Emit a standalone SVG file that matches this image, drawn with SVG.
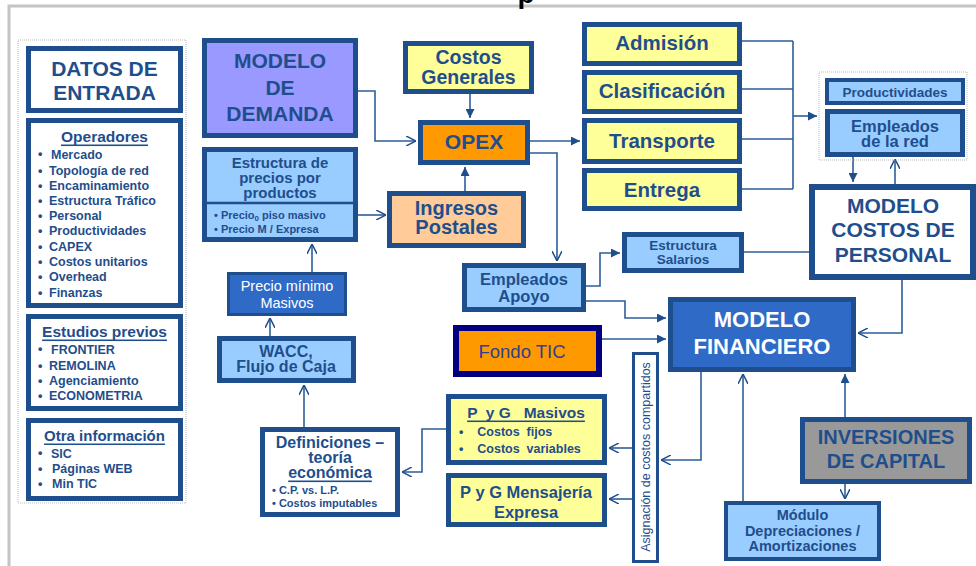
<svg xmlns="http://www.w3.org/2000/svg" width="976" height="566" viewBox="0 0 976 566">
<defs>
<style>
text{font-family:"Liberation Sans",Arial,sans-serif;font-weight:bold;fill:#1F4E8C;text-anchor:middle;dominant-baseline:central}
.bx{stroke:#1F4E8C;stroke-width:5}
.lb{fill:#99CCFF}
.yl{fill:#FFFF99}
.wh{fill:#FFFFFF}
.cn{fill:none;stroke:#2E5E9A;stroke-width:1.6}
.fa{marker-end:url(#fa)}
.oa{marker-end:url(#oa)}
.li{text-anchor:start}
.ul{text-decoration:underline}
.w{fill:#FFFFFF}
.it{font-size:12.5px}
</style>
<marker id="fa" viewBox="0 0 10 10" refX="10" refY="5" markerWidth="9" markerHeight="9" markerUnits="userSpaceOnUse" orient="auto"><path d="M0,0 L10,5 L0,10 z" fill="#1F4E8C"/></marker>
<marker id="oa" viewBox="0 0 10 10" refX="10" refY="5" markerWidth="10" markerHeight="10" markerUnits="userSpaceOnUse" orient="auto"><path d="M0,0 L10,5 L0,10" fill="none" stroke="#1F4E8C" stroke-width="1.5"/></marker>
</defs>
<rect width="976" height="566" fill="#FFFFFF"/>
<path d="M9,566 V6 H976" fill="none" stroke="#C4C4C4" stroke-width="3"/>
<text x="526" y="-7" style="font-size:28px;fill:#000">p</text>

<g id="connectors">
<path class="cn oa" d="M358,91 H375 V141 H416"/>
<path class="cn fa" d="M470,94 V118"/>
<path class="cn fa" d="M465,191 V167"/>
<path class="cn oa" d="M358,215 H386"/>
<path class="cn fa" d="M530,141 H580"/>
<path class="cn oa" d="M530,153 H557 V261"/>
<path class="cn" d="M742,41 H793 M742,89 H793 M742,139 H793 M742,189 H793 M793,41 V189"/>
<path class="cn fa" d="M793,116 H817"/>
<path class="cn fa" d="M853,157 V182"/>
<path class="cn oa" d="M895,184 V159"/>
<path class="cn" d="M809,252 H744"/>
<path class="cn fa" d="M586,286 H600 V253 H620"/>
<path class="cn fa" d="M586,301 H625 V318 H666"/>
<path class="cn fa" d="M602,339 H666"/>
<path class="cn oa" d="M902,280 V333 H858"/>
<path class="cn oa" d="M701,372 V460 H661"/>
<path class="cn oa" d="M632,448 H609"/>
<path class="cn oa" d="M632,499 H609"/>
<path class="cn oa" d="M446,429 H422 V472 H402"/>
<path class="cn oa" d="M304,427 V385"/>
<path class="cn oa" d="M270,336 V318"/>
<path class="cn oa" d="M312,272 V244"/>
<path class="cn fa" d="M845,417 V374"/>
<path class="cn oa" d="M845,484 V499"/>
<path class="cn oa" d="M743,501 V374"/>
</g>

<g id="datos-container"><rect x="18" y="40" width="168" height="463" fill="none" stroke="#BBBBBB" stroke-width="1" stroke-dasharray="1,1"/></g>
<g id="datos-entrada">
<rect class="bx wh" x="28.5" y="48.5" width="152" height="62"/>
<text x="104.5" y="68" style="font-size:21px">DATOS DE</text>
<text x="104.5" y="92" style="font-size:21px">ENTRADA</text>
</g>
<g id="operadores">
<rect class="bx wh" x="28.5" y="120.5" width="152" height="185"/>
<text class="ul" x="104.5" y="136" style="font-size:15.5px">Operadores</text>
<g class="it">
<text class="li" x="38" y="154">•</text><text class="li" x="51" y="155">Mercado</text>
<text class="li" x="38" y="171">•</text><text class="li" x="49" y="171">Topología de red</text>
<text class="li" x="38" y="186">•</text><text class="li" x="49" y="186">Encaminamiento</text>
<text class="li" x="38" y="201">•</text><text class="li" x="49" y="201">Estructura Tráfico</text>
<text class="li" x="38" y="216">•</text><text class="li" x="49" y="216">Personal</text>
<text class="li" x="38" y="231">•</text><text class="li" x="49" y="231">Productividades</text>
<text class="li" x="38" y="247">•</text><text class="li" x="49" y="247">CAPEX</text>
<text class="li" x="38" y="262">•</text><text class="li" x="49" y="262">Costos unitarios</text>
<text class="li" x="38" y="277">•</text><text class="li" x="49" y="277">Overhead</text>
<text class="li" x="38" y="293">•</text><text class="li" x="49" y="293">Finanzas</text>
</g>
</g>
<g id="estudios-previos">
<rect class="bx wh" x="28.5" y="316.5" width="152" height="92"/>
<text class="ul" x="104.5" y="331" style="font-size:15.5px">Estudios previos</text>
<g class="it">
<text class="li" x="38" y="349">•</text><text class="li" x="51" y="350">FRONTIER</text>
<text class="li" x="38" y="366">•</text><text class="li" x="49" y="366">REMOLINA</text>
<text class="li" x="38" y="381">•</text><text class="li" x="49" y="381">Agenciamiento</text>
<text class="li" x="38" y="396">•</text><text class="li" x="49" y="396">ECONOMETRIA</text>
</g>
</g>
<g id="otra-informacion">
<rect class="bx wh" x="28.5" y="420.5" width="152" height="78"/>
<text class="ul" x="104.5" y="435" style="font-size:15px">Otra información</text>
<g class="it">
<text class="li" x="38" y="453">•</text><text class="li" x="51" y="454">SIC</text>
<text class="li" x="38" y="469">•</text><text class="li" x="52" y="469">Páginas WEB</text>
<text class="li" x="38" y="484">•</text><text class="li" x="52" y="484">Min TIC</text>
</g>
</g>

<g id="modelo-demanda">
<rect class="bx" x="204.5" y="40.5" width="151" height="95" fill="#9999FF"/>
<text x="280" y="60" style="font-size:21px">MODELO</text>
<text x="280" y="87" style="font-size:21px">DE</text>
<text x="280" y="113" style="font-size:21px">DEMANDA</text>
</g>
<g id="estructura-precios">
<rect class="bx lb" x="204.5" y="149.5" width="151" height="90"/>
<line x1="204" y1="203" x2="356" y2="203" stroke="#1F4E8C" stroke-width="2.5"/>
<text x="280" y="162" style="font-size:15px">Estructura de</text>
<text x="280" y="177" style="font-size:15px">precios por</text>
<text x="280" y="192" style="font-size:15px">productos</text>
<text class="li" x="214" y="215" style="font-size:11px">•   Precio<tspan style="font-size:8px" dy="3">0</tspan><tspan dy="-3"> piso masivo</tspan></text>
<text class="li" x="214" y="229" style="font-size:11px">•   Precio  M / Expresa</text>
</g>
<g id="costos-generales">
<rect class="bx yl" x="405.5" y="43.5" width="126" height="48"/>
<text x="468.5" y="57" style="font-size:19.5px">Costos</text>
<text x="468.5" y="77" style="font-size:19.5px">Generales</text>
</g>
<g id="opex">
<rect class="bx" x="420.5" y="122.5" width="107" height="40" fill="#FF9900"/>
<text x="474" y="141" style="font-size:21px">OPEX</text>
</g>
<g id="ingresos-postales">
<rect class="bx" x="389.5" y="193.5" width="134" height="52" fill="#FFCC99"/>
<text x="456.5" y="208" style="font-size:20px">Ingresos</text>
<text x="456.5" y="227" style="font-size:20px">Postales</text>
</g>
<g id="admision">
<rect class="bx yl" x="584.5" y="24.5" width="155" height="39"/>
<text x="662" y="42" style="font-size:20.5px">Admisión</text>
</g>
<g id="clasificacion">
<rect class="bx yl" x="584.5" y="72.5" width="155" height="39"/>
<text x="662" y="90" style="font-size:20.5px">Clasificación</text>
</g>
<g id="transporte">
<rect class="bx yl" x="584.5" y="120.5" width="155" height="41"/>
<text x="662" y="140" style="font-size:20.5px">Transporte</text>
</g>
<g id="entrega">
<rect class="bx yl" x="584.5" y="170.5" width="155" height="38"/>
<text x="662" y="189" style="font-size:20.5px">Entrega</text>
</g>
<g id="red-container"><rect x="819" y="72" width="148" height="88" fill="none" stroke="#BBBBBB" stroke-width="1" stroke-dasharray="1,1"/></g>
<g id="productividades">
<rect class="bx lb" x="827" y="80" width="136" height="23" style="stroke-width:4"/>
<text x="895" y="92" style="font-size:13.5px">Productividades</text>
</g>
<g id="empleados-red">
<rect class="bx lb" x="827.5" y="111.5" width="135" height="43"/>
<text x="895" y="126" style="font-size:16.5px">Empleados</text>
<text x="895" y="141" style="font-size:16.5px">de la red</text>
</g>
<g id="modelo-costos-personal">
<rect class="bx wh" x="812" y="187" width="161" height="90" style="stroke-width:6"/>
<text x="893" y="205" style="font-size:21px">MODELO</text>
<text x="893" y="229" style="font-size:21px">COSTOS DE</text>
<text x="893" y="254" style="font-size:21px">PERSONAL</text>
</g>
<g id="estructura-salarios">
<rect class="bx lb" x="624.5" y="234.5" width="117" height="36"/>
<text x="683" y="245" style="font-size:13.5px">Estructura</text>
<text x="683" y="259" style="font-size:13.5px">Salarios</text>
</g>
<g id="empleados-apoyo">
<rect class="bx lb" x="464.5" y="265.5" width="119" height="44"/>
<text x="524" y="279" style="font-size:16.5px">Empleados</text>
<text x="524" y="296" style="font-size:16.5px">Apoyo</text>
</g>
<g id="fondo-tic">
<rect x="456" y="328" width="143" height="46" fill="#FF9900" stroke="#000080" stroke-width="6"/>
<text x="522" y="351" style="font-size:18.5px;font-weight:normal;fill:#2E3F96">Fondo TIC</text>
</g>
<g id="modelo-financiero">
<rect class="bx" x="670.5" y="299.5" width="183" height="70" fill="#2F6BC6"/>
<text class="w" x="762" y="319" style="font-size:22px">MODELO</text>
<text class="w" x="762" y="346" style="font-size:22px">FINANCIERO</text>
</g>
<g id="asignacion">
<rect class="bx wh" x="633.5" y="353.5" width="24" height="208" style="stroke-width:3"/>
<text transform="translate(646,457) rotate(-90)" style="font-size:12.5px;font-weight:normal">Asignación de costos compartidos</text>
</g>
<g id="pyg-masivos">
<rect class="bx yl" x="448.5" y="396.5" width="156" height="66"/>
<text class="ul" x="526" y="412" xml:space="preserve" style="font-size:15.5px;white-space:pre">P  y G   Masivos</text>
<text class="li" x="459" y="432" xml:space="preserve" style="font-size:12.5px;white-space:pre">•    Costos  fijos</text>
<text class="li" x="459" y="449" xml:space="preserve" style="font-size:12.5px;white-space:pre">•    Costos  variables</text>
</g>
<g id="pyg-mensajeria">
<rect class="bx yl" x="448.5" y="475.5" width="156" height="49"/>
<text x="526" y="492" style="font-size:16.5px">P y G Mensajería</text>
<text x="526" y="512" style="font-size:16.5px">Expresa</text>
</g>
<g id="definiciones">
<rect class="bx wh" x="262.5" y="429.5" width="135" height="85"/>
<text x="330" y="442" style="font-size:16px">Definiciones –</text>
<text x="330" y="457" style="font-size:16px">teoría</text>
<text class="ul" x="330" y="472" style="font-size:16px">económica</text>
<text class="li" x="272" y="490" style="font-size:11px">•   C.P. vs. L.P.</text>
<text class="li" x="272" y="503" style="font-size:11px">•  Costos imputables</text>
</g>
<g id="wacc">
<rect class="bx lb" x="219.5" y="338.5" width="134" height="42"/>
<text x="286" y="351" style="font-size:16px">WACC,</text>
<text x="286" y="366" style="font-size:16px">Flujo de Caja</text>
</g>
<g id="precio-minimo">
<rect class="bx" x="228.5" y="273.5" width="117" height="41" fill="#2F6BC6" style="stroke-width:3"/>
<text class="w" x="287" y="286" style="font-size:14.5px;font-weight:normal">Precio mínimo</text>
<text class="w" x="287" y="303" style="font-size:14.5px;font-weight:normal">Masivos</text>
</g>
<g id="inversiones-capital">
<rect class="bx" x="802.5" y="419.5" width="167" height="62" fill="#999999"/>
<text x="886" y="437" style="font-size:20px">INVERSIONES</text>
<text x="886" y="461" style="font-size:20px">DE CAPITAL</text>
</g>
<g id="modulo-depreciaciones">
<rect class="bx lb" x="726" y="503" width="153" height="56" style="stroke-width:4"/>
<text x="802.5" y="515" style="font-size:14.5px">Módulo</text>
<text x="802.5" y="531" style="font-size:14.5px">Depreciaciones /</text>
<text x="802.5" y="546" style="font-size:14.5px">Amortizaciones</text>
</g>
</svg>
